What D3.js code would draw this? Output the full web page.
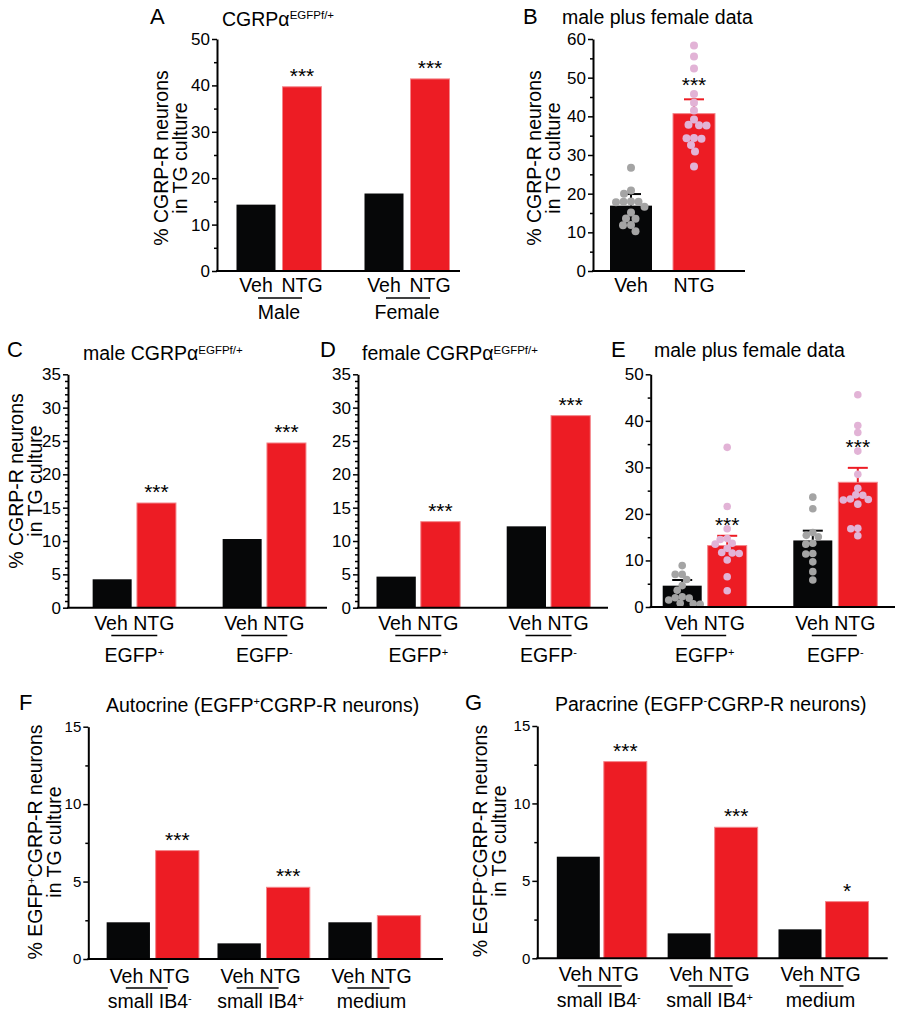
<!DOCTYPE html>
<html><head><meta charset="utf-8">
<script src="https://cdn.jsdelivr.net/npm/d3@7"></script>
<style>body{margin:0;background:#fff}</style>
</head><body>
<svg id="fig" width="902" height="1018" xmlns="http://www.w3.org/2000/svg"></svg>
<script>
// ---------------- DATA ----------------
const conds = ["Veh", "NTG"];

// Panel A
const aGroups = ["Male", "Female"];
const aVeh = [14.3, 16.7];
const aNTG = [39.7, 41.4];
const aSig = ["***", "***"];
const aTicks = [0, 10, 20, 30, 40, 50];

// Panel B
const bGroups = [""];
const bVeh = [16.9];
const bNTG = [40.7];
const bVehErr = [19.9];
const bNTGErr = [44.4];
const bVehPts = [[26.7, 20.8, 20.0, 18.0, 17.9, 17.8, 17.9, 16.6, 15.1, 13.6, 13.5, 11.9, 11.8, 10.3]];
const bNTGPts = [[58.3, 55.5, 52.4, 45.8, 43.5, 41.5, 39.2, 37.8, 37.7, 37.6, 34.4, 34.3, 34.2, 32.6, 30.9, 27.0]];
const bSig = ["***"];
const bSigAt = [49.4];
const bTicks = [0, 10, 20, 30, 40, 50, 60];

// Panel C
const cGroups = ["EGFP^+", "EGFP^-"];
const cVeh = [4.26, 10.3];
const cNTG = [15.7, 24.7];
const cSig = ["***", "***"];
const cdTicks = [0, 5, 10, 15, 20, 25, 30, 35];

// Panel D
const dGroups = ["EGFP^+", "EGFP^-"];
const dVeh = [4.66, 12.2];
const dNTG = [12.9, 28.8];
const dSig = ["***", "***"];

// Panel E
const eGroups = ["EGFP^+", "EGFP^-"];
const eVeh = [4.58, 14.3];
const eNTG = [13.2, 26.8];
const eVehErr = [5.8, 16.4];
const eNTGErr = [15.3, 29.9];
const eVehPts = [
  [8.9, 7.0, 7.0, 5.9, 4.6, 3.6, 2.2, 2.0, 1.9, 1.5, 0.8, 0.7, 0.6],
  [23.6, 21.1, 16.0, 15.4, 15.1, 13.7, 13.5, 11.5, 11.4, 9.7, 7.6, 5.8]
];
const eNTGPts = [
  [34.3, 21.6, 16.8, 14.7, 14.5, 13.7, 13.5, 12.6, 11.7, 11.6, 11.5, 10.1, 6.5, 3.5],
  [45.6, 39.0, 37.5, 33.5, 28.5, 25.5, 24.1, 24.0, 23.2, 23.1, 23.0, 22.1, 16.9, 16.8, 15.3]
];
const eSig = ["***", "***"];
const eSigAt = [18.8, 35.5];
const eTicks = [0, 10, 20, 30, 40, 50];

// Panel F
const fGroups = ["small IB4^-", "small IB4^+", "medium"];
const fVeh = [2.37, 1.01, 2.37];
const fNTG = [7.0, 4.63, 2.8];
const fSig = ["***", "***", ""];
const fgTicks = [0, 5, 10, 15];

// Panel G
const gGroups = ["small IB4^-", "small IB4^+", "medium"];
const gVeh = [6.56, 1.61, 1.87];
const gNTG = [12.7, 8.46, 3.66];
const gSig = ["***", "***", "*"];

// ---------------- STYLE ----------------
const FONT = "'Liberation Sans', Arial, Helvetica, sans-serif";
const RED = "#ed1c24", BLACK = "#060708", GREY = "#a4a4a4", PINK = "#e2b3d6";
const svg = d3.select("#fig").attr("font-family", FONT);
svg.append("rect").attr("width", 902).attr("height", 1018).attr("fill", "#fff");

function rich(sel, str, supSize, supDy) {
  const parts = str.split("^");
  sel.append("tspan").text(parts[0]);
  if (parts.length > 1) {
    sel.append("tspan").attr("font-size", supSize).attr("dy", supDy).text(parts[1]);
    if (parts.length > 2) sel.append("tspan").attr("dy", -supDy).text(parts[2]);
  }
  return sel;
}

function swarm(vals, y, cx, minD) {
  const arr = vals.map(v => ({ v, py: y(v) })).sort((a, b) => b.v - a.v);
  const placed = [];
  for (const d of arr) {
    let off = 0;
    for (let k = 0; k < 400; k++) {
      const o = (k % 2 === 1 ? -1 : 1) * Math.ceil(k / 2) * 0.5;
      if (placed.every(q => Math.hypot(q.px - (cx + o), q.py - d.py) >= minD)) { off = o; break; }
    }
    d.px = cx + off;
    placed.push(d);
  }
  return placed;
}

function drawPanel(p) {
  const g = svg.append("g");
  const yMax = p.ticks[p.ticks.length - 1];
  const y = d3.scaleLinear().domain([0, yMax]).range([p.y0, p.yTop]);
  const x0 = d3.scalePoint().domain(p.groups).range(p.centers);
  const half = p.bw + p.gap / 2;
  const x1 = d3.scaleBand().domain(conds).range([-half, half])
    .paddingInner(p.gap / (p.bw + p.gap)).paddingOuter(0);

  const rows = [];
  p.groups.forEach((grp, i) => {
    rows.push({ grp, c: "Veh", v: p.veh[i], err: p.vehErr ? p.vehErr[i] : null, pts: p.vehPts ? p.vehPts[i] : null });
    rows.push({ grp, c: "NTG", v: p.ntg[i], err: p.ntgErr ? p.ntgErr[i] : null, pts: p.ntgPts ? p.ntgPts[i] : null,
      sig: p.sig[i], sigAt: p.sigAt ? p.sigAt[i] : null });
  });
  rows.forEach(d => { d.cx = x0(d.grp) + x1(d.c) + x1.bandwidth() / 2; });

  // bars
  g.selectAll("rect.bar").data(rows).join("rect").attr("class", "bar")
    .attr("x", d => x0(d.grp) + x1(d.c)).attr("width", x1.bandwidth())
    .attr("y", d => y(d.v)).attr("height", d => y(0) - y(d.v))
    .attr("fill", d => d.c === "Veh" ? BLACK : RED)
    .attr("stroke", d => d.c === "Veh" ? "none" : "#f4868b").attr("stroke-width", 1);

  // error bars
  const eb = rows.filter(d => d.err != null);
  g.selectAll("line.ev").data(eb).join("line")
    .attr("x1", d => d.cx).attr("x2", d => d.cx).attr("y1", d => y(d.v)).attr("y2", d => y(d.err))
    .attr("stroke", d => d.c === "Veh" ? BLACK : RED).attr("stroke-width", 2);
  g.selectAll("line.ec").data(eb).join("line")
    .attr("x1", d => d.cx - 10).attr("x2", d => d.cx + 10).attr("y1", d => y(d.err)).attr("y2", d => y(d.err))
    .attr("stroke", d => d.c === "Veh" ? BLACK : RED).attr("stroke-width", 2);

  // dots
  rows.filter(d => d.pts).forEach(d => {
    const pts = swarm(d.pts, y, d.cx, p.minD);
    g.append("g").selectAll("circle").data(pts).join("circle")
      .attr("cx", q => q.px).attr("cy", q => q.py).attr("r", p.r)
      .attr("fill", d.c === "Veh" ? GREY : PINK);
  });

  // axes
  const ax = d3.axisLeft(y).tickValues(p.ticks).tickSize(5).tickSizeOuter(0).tickPadding(2).tickFormat(d3.format("d"));
  const ag = g.append("g").attr("transform", `translate(${p.ax},0)`).call(ax)
    .attr("font-family", FONT).attr("font-size", p.tickFont);
  ag.select(".domain").attr("stroke", "#000").attr("stroke-width", 2);
  ag.selectAll(".tick line").attr("stroke", "#000").attr("stroke-width", 1.5);
  ag.selectAll(".tick text").attr("fill", "#000");
  const minor = d3.range(0, yMax + 1e-9, p.minorStep).filter(v => !p.ticks.some(t => Math.abs(t - v) < 1e-9));
  const mg = g.append("g").attr("transform", `translate(${p.ax},0)`)
    .call(d3.axisLeft(y).tickValues(minor).tickSize(3).tickSizeOuter(0).tickFormat(""));
  mg.select(".domain").remove();
  mg.selectAll(".tick line").attr("stroke", "#000").attr("stroke-width", 1.5);

  g.append("line").attr("x1", p.ax - 1).attr("x2", p.axEnd).attr("y1", y(0)).attr("y2", y(0))
    .attr("stroke", "#000").attr("stroke-width", 2);

  // significance
  g.selectAll("text.sig").data(rows.filter(d => d.sig)).join("text")
    .attr("x", d => d.cx)
    .attr("y", d => d.sigAt != null ? y(d.sigAt) + 12 : y(d.v) - 4)
    .attr("text-anchor", "middle").attr("font-size", 21).text(d => d.sig);

  // x labels
  if (p.sepLabels) {
    g.selectAll("text.cl").data(rows).join("text")
      .attr("x", d => d.cx).attr("y", p.labelY).attr("text-anchor", "middle")
      .attr("font-size", 19.5).text(d => d.c);
  } else {
    p.groups.forEach(grp => {
      g.append("text").attr("x", x0(grp) + p.labelDx).attr("y", p.labelY)
        .attr("text-anchor", "middle").attr("font-size", 19.5).text(conds.join(" "));
    });
  }
  if (p.ulY) {
    p.groups.forEach(grp => {
      const c = x0(grp) + p.ulDx;
      g.append("line").attr("x1", c - p.ulW / 2).attr("x2", c + p.ulW / 2)
        .attr("y1", p.ulY).attr("y2", p.ulY).attr("stroke", "#000").attr("stroke-width", 1.5);
      const t = g.append("text").attr("x", x0(grp) + p.labelDx).attr("y", p.groupY)
        .attr("text-anchor", "middle").attr("font-size", 19.5);
      rich(t, grp, 11, -6);
    });
  }

  // y label
  if (p.ylab) {
    p.ylab.forEach((s, i) => {
      const t = g.append("text").attr("transform", `translate(${p.ylabX[i]},${p.ylabY}) rotate(-90)`)
        .attr("text-anchor", "middle").attr("font-size", 19.5);
      rich(t, s, 11, -7);
    });
  }

  // titles
  g.append("text").attr("x", p.letterX).attr("y", p.letterY).attr("font-size", 22).text(p.letter);
  const tt = g.append("text").attr("x", p.titleX).attr("y", p.titleY).attr("font-size", 19.5);
  rich(tt, p.title, p.titleSup || 11.5, p.titleSupDy || -6);
}

const ylabCGRP = ["% CGRP-R neurons", "in TG culture"];

drawPanel({ groups: aGroups, veh: aVeh, ntg: aNTG, sig: aSig, ticks: aTicks, minorStep: 5,
  y0: 271, yTop: 39, ax: 217, axEnd: 460, centers: [279, 407], bw: 39, gap: 7, tickFont: 17,
  sepLabels: true, labelY: 292, ulY: 298, ulW: 44, ulDx: 1, labelDx: 0, groupY: 319,
  ylab: ylabCGRP, ylabX: [168, 187], ylabY: 158,
  letter: "A", letterX: 150, letterY: 24, title: "CGRPα^EGFPf/+", titleX: 222, titleY: 25.5, titleSupDy: -7 });

drawPanel({ groups: bGroups, veh: bVeh, ntg: bNTG, vehErr: bVehErr, ntgErr: bNTGErr,
  vehPts: bVehPts, ntgPts: bNTGPts, r: 4, minD: 7.5, sig: bSig, sigAt: bSigAt, ticks: bTicks, minorStep: 5,
  y0: 271, yTop: 39, ax: 593, axEnd: 745, centers: [662.5, 662.5], bw: 42, gap: 21, tickFont: 17,
  sepLabels: true, labelY: 292,
  ylab: ylabCGRP, ylabX: [541, 560], ylabY: 158,
  letter: "B", letterX: 523, letterY: 23.5, title: "male plus female data", titleX: 562, titleY: 24 });

drawPanel({ groups: cGroups, veh: cVeh, ntg: cNTG, sig: cSig, ticks: cdTicks, minorStep: 1,
  y0: 607.7, yTop: 374.3, ax: 68, axEnd: 327, centers: [134.3, 264.3], bw: 39, gap: 5.3, tickFont: 17,
  labelY: 630.3, labelDx: 0, ulY: 635.5, ulW: 46, ulDx: 0, groupY: 661.5,
  ylab: ylabCGRP, ylabX: [23, 42], ylabY: 481,
  letter: "C", letterX: 7, letterY: 357, title: "male CGRPα^EGFPf/+", titleX: 83, titleY: 360 });

drawPanel({ groups: dGroups, veh: dVeh, ntg: dNTG, sig: dSig, ticks: cdTicks, minorStep: 1,
  y0: 607.7, yTop: 374.3, ax: 358, axEnd: 608, centers: [418.3, 548.5], bw: 39.3, gap: 5, tickFont: 17,
  labelY: 630.3, labelDx: 0, ulY: 635.5, ulW: 46, ulDx: 0, groupY: 661.5,
  letter: "D", letterX: 320, letterY: 357, title: "female CGRPα^EGFPf/+", titleX: 362, titleY: 360 });

drawPanel({ groups: eGroups, veh: eVeh, ntg: eNTG, vehErr: eVehErr, ntgErr: eNTGErr,
  vehPts: eVehPts, ntgPts: eNTGPts, r: 3.8, minD: 6.8, sig: eSig, sigAt: eSigAt, ticks: eTicks, minorStep: 5,
  y0: 607, yTop: 374.3, ax: 650.7, axEnd: 895, centers: [704.7, 835.3], bw: 39, gap: 6, tickFont: 17,
  labelY: 630.3, labelDx: 0, ulY: 635.5, ulW: 45, ulDx: -1, groupY: 661.5,
  letter: "E", letterX: 611, letterY: 357, title: "male plus female data", titleX: 654, titleY: 357 });

drawPanel({ groups: fGroups, veh: fVeh, ntg: fNTG, sig: fSig, ticks: fgTicks, minorStep: 2.5,
  y0: 959, yTop: 726.7, ax: 88.3, axEnd: 443, centers: [152.8, 374.5], bw: 43.3, gap: 5.7, tickFont: 15,
  labelY: 982.5, labelDx: -3, ulY: 988, ulW: 42, ulDx: -6, groupY: 1008,
  ylab: ["% EGFP^+^CGRP-R neurons", "in TG culture"], ylabX: [42, 61], ylabY: 842,
  letter: "F", letterX: 19, letterY: 709.5, title: "Autocrine (EGFP^+^CGRP-R neurons)", titleX: 106, titleY: 711.5,
  titleSup: 11, titleSupDy: -7 });

drawPanel({ groups: gGroups, veh: gVeh, ntg: gNTG, sig: gSig, ticks: fgTicks, minorStep: 2.5,
  y0: 958.3, yTop: 726, ax: 537.3, axEnd: 887.7, centers: [601.8, 823.5], bw: 43, gap: 4, tickFont: 15,
  labelY: 980.5, labelDx: -3, ulY: 986, ulW: 44, ulDx: -2, groupY: 1007,
  ylab: ["% EGFP^-^CGRP-R neurons", "in TG culture"], ylabX: [487, 506], ylabY: 841,
  letter: "G", letterX: 465, letterY: 709.5, title: "Paracrine (EGFP^-^CGRP-R neurons)", titleX: 555, titleY: 711,
  titleSup: 11, titleSupDy: -7 });
</script>
</body></html>
